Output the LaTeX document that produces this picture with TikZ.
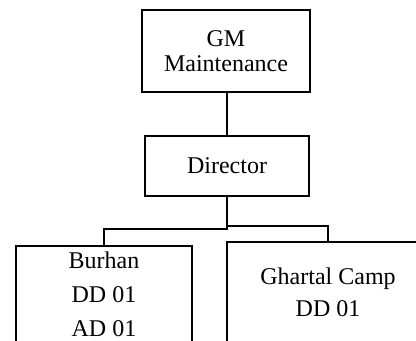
\documentclass[tikz,border=0pt]{standalone}
\usepackage{fontspec}
\setmainfont{Liberation Serif}
\usetikzlibrary{positioning}

\begin{document}
\begin{tikzpicture}[
  x=0.5pt, y=-0.5pt,
  font=\fontsize{12pt}{14pt}\selectfont,
  post/.style={draw=black, line width=0.75pt, align=center, inner sep=0pt},
  link/.style={draw=black, line width=0.75pt}
]
\clip (0,0) rectangle (416,341);
\node[post, minimum width=84pt, minimum height=41pt, font=\fontsize{12pt}{12.5pt}\selectfont] (gm) at (226,51) {GM\\Maintenance};
\node[post, minimum width=82pt, minimum height=30pt] (dir) at (227,166) {Director};
\node[post, minimum width=88pt, minimum height=48pt, font=\fontsize{12pt}{17pt}\selectfont] (burhan) at (104,294) {Burhan\\DD 01\\AD 01};
\node[post, minimum width=101pt, minimum height=50pt, font=\fontsize{12pt}{16pt}\selectfont] (ghartal) at (328,292) {Ghartal Camp\\DD 01};
\draw[link] (gm.south -| dir.north) -- (dir.north);
\draw[link] (dir.south) -- ++(0,32) -| (burhan.north);
\draw[link] (dir.south) -- ++(0,29) -| (ghartal.north);
\end{tikzpicture}
\end{document}
